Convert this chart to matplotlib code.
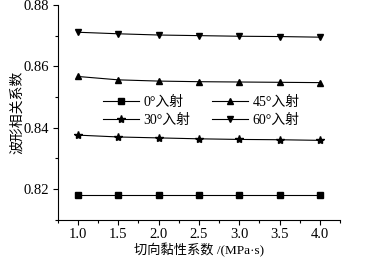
import numpy as np
import matplotlib.pyplot as plt
from matplotlib.ticker import MultipleLocator

plt.rcParams['font.family'] = ['Liberation Serif', 'Noto Sans CJK SC']

x = [1.0, 1.5, 2.0, 2.5, 3.0, 3.5, 4.0]
r0 = [0.8181, 0.8181, 0.8181, 0.8181, 0.8181, 0.8181, 0.8181]
r30 = [0.8376, 0.8370, 0.8367, 0.8364, 0.8362, 0.8361, 0.8359]
r45 = [0.8567, 0.8556, 0.8552, 0.8550, 0.8549, 0.8548, 0.8547]
r60 = [0.8711, 0.8706, 0.8702, 0.8700, 0.8698, 0.8697, 0.8695]
labels = ['0°入射', '30°入射', '45°入射', '60°入射']

fig = plt.figure(figsize=(3.66, 2.59), dpi=100)
ax = fig.add_axes([0.158, 0.151, 0.771, 0.830])

ms = 4.5
ax.plot(x, r0, '-s', color='black', lw=0.8, ms=ms, label=labels[0])
ax.plot(x, r30, '-*', color='black', lw=0.8, ms=ms + 1.5, label=labels[1])
ax.plot(x, r45, '-^', color='black', lw=0.8, ms=ms, label=labels[2])
ax.plot(x, r60, '-v', color='black', lw=0.8, ms=ms, label=labels[3])

ax.set_xlim(0.75, 4.25)
ax.set_ylim(0.81, 0.88)
ax.xaxis.set_minor_locator(MultipleLocator(0.25))
ax.yaxis.set_minor_locator(MultipleLocator(0.01))
ax.set_xticks([1.0, 1.5, 2.0, 2.5, 3.0, 3.5, 4.0])
ax.set_yticks([0.82, 0.84, 0.86, 0.88])
ax.tick_params(which='major', length=3.5, width=0.8, labelsize=10.5, direction='out', pad=2.5)
ax.tick_params(which='minor', length=2, width=0.8, direction='out')
ax.spines['top'].set_visible(False)
ax.spines['right'].set_visible(False)

ax.set_xlabel('切向黏性系数 /(MPa·s)', fontsize=9.5, labelpad=1)
ax.set_ylabel('波形相关系数', fontsize=10, labelpad=0)

handles, labs = ax.get_legend_handles_labels()
ax.legend(handles, labs,
          ncol=2, frameon=False, fontsize=10, handlelength=2.6,
          handletextpad=0.3, columnspacing=1.6, labelspacing=0.4,
          loc='center', bbox_to_anchor=(0.55, 0.57), bbox_transform=fig.transFigure)

fig.savefig('out.png', dpi=100)
